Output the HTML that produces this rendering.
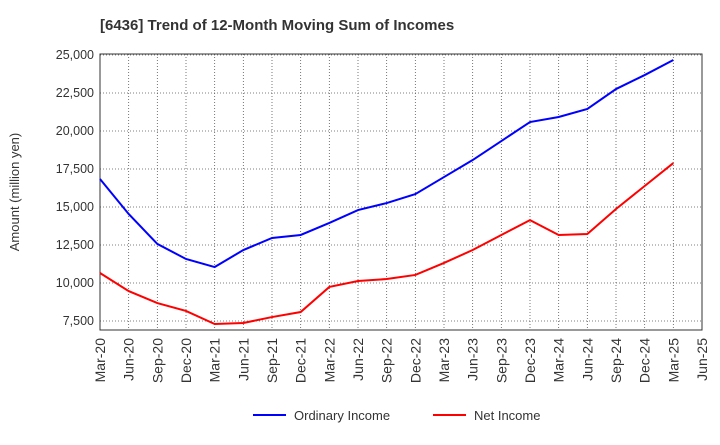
<!DOCTYPE html>
<html><head><meta charset="utf-8"><style>
body{margin:0;background:#fff;font-family:"Liberation Sans",sans-serif}
</style></head><body>
<svg id="c" width="720" height="440" xmlns="http://www.w3.org/2000/svg">
<text x="100" y="30" font-size="15" font-weight="bold" fill="#333">[6436]  Trend of 12-Month Moving Sum of Incomes</text>
<text transform="translate(19,192) rotate(-90)" font-size="13" text-anchor="middle" fill="#333">Amount (million yen)</text>
<g id="grid"></g><g id="axes"></g><g id="series"></g>
<g>
<line x1="253" y1="415" x2="286" y2="415" stroke="#0000ff" stroke-width="2"/>
<text x="294" y="420" font-size="13" fill="#333">Ordinary Income</text>
<line x1="433" y1="415" x2="466" y2="415" stroke="#ff0000" stroke-width="2"/>
<text x="474" y="420" font-size="13" fill="#333">Net Income</text>
</g>
</svg>
<script>
const categories=["Mar-20","Jun-20","Sep-20","Dec-20","Mar-21","Jun-21","Sep-21","Dec-21","Mar-22","Jun-22","Sep-22","Dec-22","Mar-23","Jun-23","Sep-23","Dec-23","Mar-24","Jun-24","Sep-24","Dec-24","Mar-25","Jun-25"];
const ordinaryIncome=[16840,14540,12570,11580,11050,12170,12960,13160,13950,14800,15260,15850,16970,18090,19340,20590,20920,21450,22760,23680,24670];
const netIncome=[10660,9470,8680,8160,7300,7370,7760,8090,9740,10130,10260,10530,11320,12170,13160,14140,13160,13220,14870,16380,17890];
const yTicks=[7500,10000,12500,15000,17500,20000,22500,25000];
const L=100,R=702,T=54,B=330;
const x=i=>L+i*(R-L)/(categories.length-1);
const y=v=>321-(v-7500)/2500*38;
const ns="http://www.w3.org/2000/svg";
function mk(tag,parent,attrs){const e=document.createElementNS(ns,tag);for(const k in attrs)e.setAttribute(k,attrs[k]);parent.appendChild(e);return e;}
const g=document.getElementById('grid'),a=document.getElementById('axes'),s=document.getElementById('series');
categories.forEach((c,i)=>{
 const l=mk('line',g,{x1:x(i),x2:x(i),y1:T,y2:B,stroke:'#555','stroke-dasharray':'1,2','stroke-width':0.8});
 
 
 const t=mk('text',a,{transform:`translate(${x(i)+5},${B+8}) rotate(-90)`,'font-size':14,'text-anchor':'end',fill:'#333'});
 t.textContent=c;
 
 
});
yTicks.forEach(v=>{
 const l=mk('line',g,{x1:L,x2:R,y1:y(v),y2:y(v),stroke:'#555','stroke-dasharray':'1,2','stroke-width':0.8});
 
 
 const t=mk('text',a,{x:L-6,y:y(v)+4,'font-size':12.5,'text-anchor':'end',fill:'#333'});
 t.textContent=v.toLocaleString('en-US');
 
 
});
const fr=mk('rect',a,{x:L,y:T,width:R-L,height:B-T,fill:'none',stroke:'#333','stroke-width':1});


function line(arr,color,name){
 const p=mk('polyline',s,{points:arr.map((v,i)=>x(i)+','+y(v)).join(' '),fill:'none',stroke:color,'stroke-width':2});
 
 
}
line(ordinaryIncome,'#0000ff','ordinary-income-line');
line(netIncome,'#ff0000','net-income-line');
</script>
</body></html>
